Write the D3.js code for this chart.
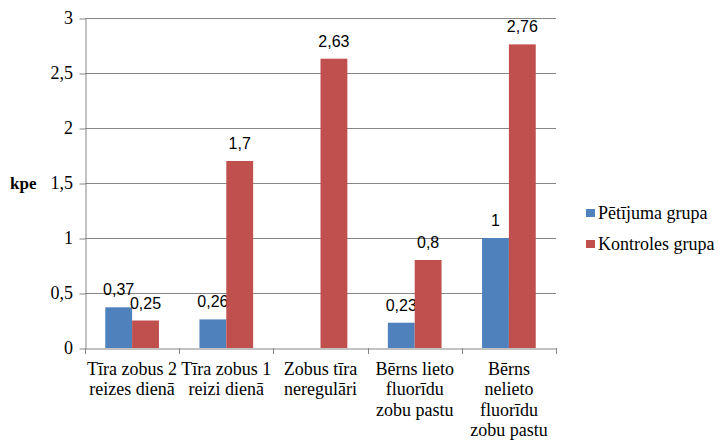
<!DOCTYPE html>
<html><head><meta charset="utf-8"><script src="https://cdn.jsdelivr.net/npm/d3@7"></script></head>
<body style="margin:0">
<svg id="chart" width="721" height="440"></svg>
<script>
// Category labels, one array of lines per category
const categories = [
  ["Tīra zobus 2", "reizes dienā"],
  ["Tīra zobus 1", "reizi dienā"],
  ["Zobus tīra", "neregulāri"],
  ["Bērns lieto", "fluorīdu", "zobu pastu"],
  ["Bērns", "nelieto", "fluorīdu", "zobu pastu"]
];
const seriesNames = ["Pētījuma grupa", "Kontroles grupa"];
const petijumaValues = [0.37, 0.26, null, 0.23, 1];
const kontrolesValues = [0.25, 1.7, 2.63, 0.8, 2.76];
const yTicks = [0, 0.5, 1, 1.5, 2, 2.5, 3];
const yTickLabels = ["0", "0,5", "1", "1,5", "2", "2,5", "3"];
const yTitle = "kpe";

const colors = ["#4F81BD", "#C0504D"];
const SERIF = '"Liberation Serif"';
const SANS = '"Liberation Sans"';

const svg = d3.select("#chart");
const plot = { left: 85, right: 556, top: 18, bottom: 348 };

const x = d3.scaleBand()
  .domain(d3.range(categories.length))
  .range([plot.left, plot.right])
  .paddingInner(0).paddingOuter(0);

const y = d3.scaleLinear().domain([0, 3]).range([plot.bottom, plot.top]);

const groupPad = 0.215; // fraction of band on each side left empty
const barW = x.bandwidth() * (1 - 2 * groupPad) / 2;

// Horizontal gridlines
svg.append("g")
  .selectAll("line")
  .data(yTicks.filter(d => d > 0))
  .join("line")
  .attr("x1", plot.left).attr("x2", plot.right)
  .attr("y1", d => Math.round(y(d)) + 0.5).attr("y2", d => Math.round(y(d)) + 0.5)
  .attr("stroke", "#868686").attr("stroke-width", 1);

// Y axis: line and tick marks from d3.axisLeft, labels drawn as plain text
const yAxis = d3.axisLeft(y)
  .tickValues(yTicks)
  .tickFormat("")
  .tickSize(6).tickSizeOuter(0);
const gy = svg.append("g").attr("transform", `translate(${plot.left + 0.5},0.5)`).call(yAxis);
gy.select(".domain").attr("stroke", "#868686");
gy.selectAll(".tick line").attr("stroke", "#868686");

svg.selectAll("text.ylab")
  .data(yTicks)
  .join("text")
  .attr("class", "ylab")
  .attr("x", plot.left - 12)
  .attr("y", d => y(d) + 6)
  .attr("text-anchor", "end")
  .style("font-family", SERIF).style("font-size", "18px")
  .text((d, i) => yTickLabels[i]);

// Y title
svg.append("text")
  .attr("x", 10).attr("y", y(1.5) + 6)
  .style("font-family", SERIF)
  .style("font-size", "17px").style("font-weight", "bold")
  .text(yTitle);

// Bars
const series = [petijumaValues, kontrolesValues];
series.forEach((vals, s) => {
  const data = vals.map((v, i) => ({ v, i })).filter(d => d.v !== null);
  svg.selectAll(`rect.s${s}`)
    .data(data)
    .join("rect")
    .attr("class", `s${s}`)
    .attr("x", d => x(d.i) + x.bandwidth() * groupPad + s * barW)
    .attr("width", barW)
    .attr("y", d => y(d.v))
    .attr("height", d => y(0) - y(d.v))
    .attr("fill", colors[s]);
  svg.selectAll(`text.v${s}`)
    .data(data)
    .join("text")
    .attr("class", `v${s}`)
    .attr("x", d => x(d.i) + x.bandwidth() * groupPad + s * barW + barW / 2)
    .attr("y", d => y(d.v) - 12)
    .attr("text-anchor", "middle")
    .style("font-family", SANS)
    .style("font-size", "16px")
    .text(d => String(d.v).replace(".", ","));
});

// X axis line
const xAxis = d3.axisBottom(x).tickFormat("").tickSize(0).tickSizeOuter(0);
const gx = svg.append("g").attr("transform", `translate(0,${plot.bottom + 0.5})`).call(xAxis);
gx.select(".domain").attr("stroke", "#868686");
// tick marks at category boundaries
svg.append("g")
  .selectAll("line")
  .data(d3.range(categories.length + 1))
  .join("line")
  .attr("x1", i => Math.round(plot.left + i * x.bandwidth()) + 0.5)
  .attr("x2", i => Math.round(plot.left + i * x.bandwidth()) + 0.5)
  .attr("y1", plot.bottom).attr("y2", plot.bottom + 6)
  .attr("stroke", "#868686");

// Category labels, one text per line
const catLines = [];
categories.forEach((lines, i) => lines.forEach((ln, j) => catLines.push({ i, j, ln })));
svg.selectAll("text.cat")
  .data(catLines)
  .join("text")
  .attr("class", "cat")
  .attr("x", d => x(d.i) + x.bandwidth() / 2)
  .attr("y", d => 375 + d.j * 20.3)
  .attr("text-anchor", "middle")
  .style("font-family", SERIF)
  .style("font-size", "18px")
  .text(d => d.ln);

// Legend
seriesNames.forEach((name, i) => {
  const ly = 213 + i * 31;
  svg.append("rect")
    .attr("x", 586).attr("y", ly - 4).attr("width", 9).attr("height", 8)
    .attr("fill", colors[i]);
  svg.append("text")
    .attr("x", 598).attr("y", ly + 6)
    .style("font-family", SERIF)
    .style("font-size", "18px")
    .text(name);
});
</script>
</body>
</html>
